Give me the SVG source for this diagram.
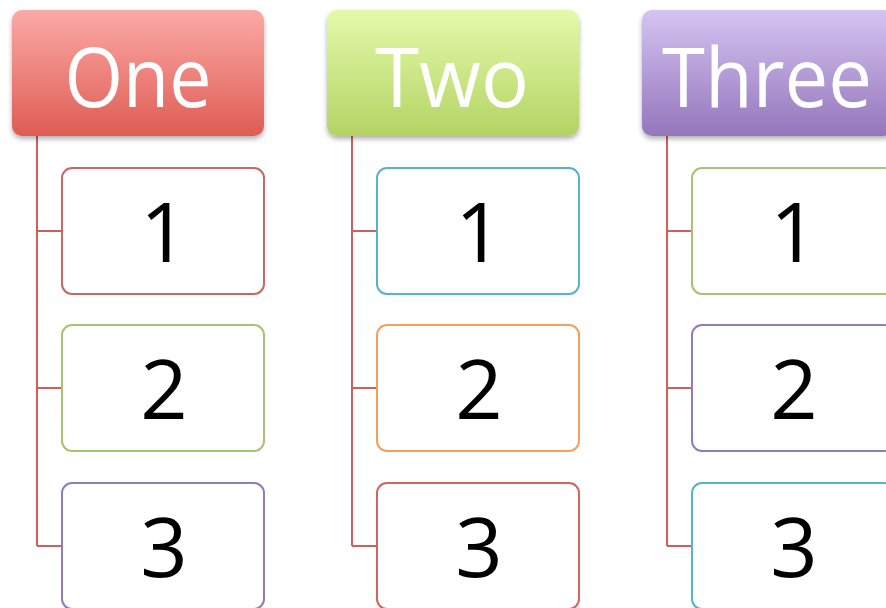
<svg xmlns="http://www.w3.org/2000/svg" width="886" height="608" viewBox="0 0 886 608">
<style>
.hdr{stroke:none;filter:url(#sh)}
.ht{font-family:"Open Sans","Liberation Sans",sans-serif;font-size:82px;fill:#ffffff;text-anchor:middle}
.box{fill:#ffffff;stroke-width:2}
.dt{font-family:"Open Sans","Liberation Sans",sans-serif;font-size:83px;fill:#000000;text-anchor:middle}
.conn{fill:none;stroke:#cf5f59;stroke-width:2}
.red{stroke:#cf6560}.green{stroke:#a7c470}.purple{stroke:#927cb8}.blue{stroke:#55b3cc}.orange{stroke:#f5a05a}
</style>
<defs>
<linearGradient id="gR" x1="0" y1="0" x2="0" y2="1"><stop offset="0" stop-color="#fcaaa6"/><stop offset="1" stop-color="#de5c54"/></linearGradient>
<linearGradient id="gG" x1="0" y1="0" x2="0" y2="1"><stop offset="0" stop-color="#e4faaa"/><stop offset="1" stop-color="#b4d364"/></linearGradient>
<linearGradient id="gP" x1="0" y1="0" x2="0" y2="1"><stop offset="0" stop-color="#d5c4f1"/><stop offset="1" stop-color="#9476bc"/></linearGradient>
<filter id="sh" x="-10%" y="-10%" width="120%" height="130%"><feDropShadow dx="0" dy="3" stdDeviation="2.5" flood-color="#000" flood-opacity="0.3"/></filter>
</defs>
<rect width="886" height="608" fill="#ffffff"/>
<g id="connectors">
<path class="conn" d="M37,136 V546 M37,231 H62 M37,388 H62 M37,546 H62"/>
<path class="conn" d="M352,136 V546 M352,231 H377 M352,388 H377 M352,546 H377"/>
<path class="conn" d="M667,136 V546 M667,231 H692 M667,388 H692 M667,546 H692"/>
</g>
<g id="one"><rect class="hdr" x="12" y="10" width="252" height="126" rx="10" fill="url(#gR)"/><text class="ht" x="138" y="107" textLength="147" lengthAdjust="spacingAndGlyphs">One</text></g>
<g id="two"><rect class="hdr" x="327" y="10" width="252" height="126" rx="10" fill="url(#gG)"/><text class="ht" x="452" y="107" textLength="154" lengthAdjust="spacingAndGlyphs">Two</text></g>
<g id="three"><rect class="hdr" x="642" y="10" width="252" height="126" rx="10" fill="url(#gP)"/><text class="ht" x="767" y="107" textLength="210" lengthAdjust="spacingAndGlyphs">Three</text></g>
<g id="one-1"><rect class="box red" x="62" y="168" width="202" height="126" rx="10"/><text class="dt" x="164" y="262">1</text></g>
<g id="one-2"><rect class="box green" x="62" y="325" width="202" height="126" rx="10"/><text class="dt" x="164" y="419">2</text></g>
<g id="one-3"><rect class="box purple" x="62" y="483" width="202" height="126" rx="10"/><text class="dt" x="164" y="577">3</text></g>
<g id="two-1"><rect class="box blue" x="377" y="168" width="202" height="126" rx="10"/><text class="dt" x="479" y="262">1</text></g>
<g id="two-2"><rect class="box orange" x="377" y="325" width="202" height="126" rx="10"/><text class="dt" x="479" y="419">2</text></g>
<g id="two-3"><rect class="box red" x="377" y="483" width="202" height="126" rx="10"/><text class="dt" x="479" y="577">3</text></g>
<g id="three-1"><rect class="box green" x="692" y="168" width="202" height="126" rx="10"/><text class="dt" x="794" y="262">1</text></g>
<g id="three-2"><rect class="box purple" x="692" y="325" width="202" height="126" rx="10"/><text class="dt" x="794" y="419">2</text></g>
<g id="three-3"><rect class="box blue" x="692" y="483" width="202" height="126" rx="10"/><text class="dt" x="794" y="577">3</text></g>
</svg>
